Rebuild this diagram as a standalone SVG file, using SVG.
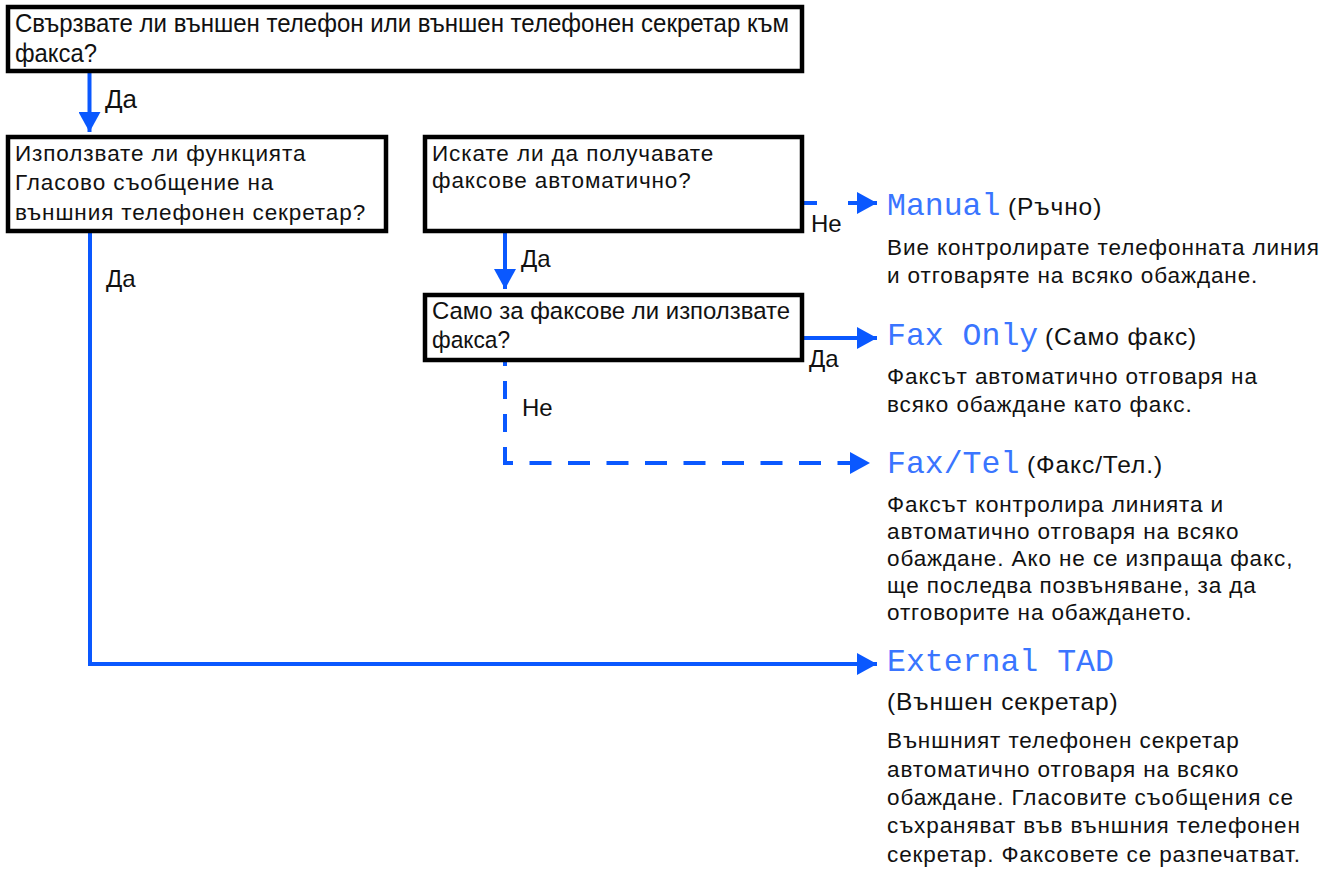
<svg xmlns="http://www.w3.org/2000/svg" width="1327" height="871" viewBox="0 0 1327 871">
<style>
.box{fill:#fff;stroke:#000;stroke-width:4.5}
.q{font-family:"Liberation Sans",Arial,sans-serif;font-size:26px;fill:#111}
.q4{font-family:"Liberation Sans",Arial,sans-serif;font-size:24.5px;fill:#111}
.t{font-family:"Liberation Sans",Arial,sans-serif;font-size:22.5px;letter-spacing:0.9px;fill:#111}
.h{font-family:"Liberation Sans",Arial,sans-serif;font-size:24.5px;letter-spacing:0.9px;fill:#111}
.lbl{font-family:"Liberation Sans",Arial,sans-serif;font-size:24px;fill:#111}
.m{font-family:"Liberation Mono","DejaVu Sans Mono",monospace;font-size:31.5px;fill:#3a75ff}
.ln{fill:none;stroke:#0a58ff;stroke-width:4;marker-end:url(#arr)}
.dash{fill:none;stroke:#0a58ff;stroke-width:4}
</style>
<defs>
<marker id="arr" markerUnits="userSpaceOnUse" markerWidth="20" markerHeight="22" viewBox="0 0 20 22" refX="20" refY="11" orient="auto">
<path d="M0,0 L20,11 L0,22 Z" fill="#0a58ff"/>
</marker>
</defs>
<rect width="1327" height="871" fill="#fff"/>

<g id="connectors">
<path class="ln" d="M89.5 73 V132"/>
<path class="ln" d="M90 233 V664 H877"/>
<path class="ln" d="M505 233 V289"/>
<path class="ln" d="M804 203 H817 M848 203 H877"/>
<path class="ln" d="M804 338 H877"/>
<path class="dash" d="M505 465 V362" stroke-dasharray="18 15"/>
<path class="ln" d="M503 463 H870" stroke-dasharray="22 16.5" stroke-dashoffset="12"/>
<text class="q" x="105" y="108" textLength="32" lengthAdjust="spacingAndGlyphs">Да</text>
<text class="lbl" x="106" y="287">Да</text>
<text class="lbl" x="521" y="267">Да</text>
<text class="lbl" x="811" y="232">Не</text>
<text class="lbl" x="809" y="367">Да</text>
<text class="lbl" x="522" y="416">Не</text>
</g>

<g id="q1">
<rect class="box" x="8" y="7" width="794" height="64"/>
<text class="q" x="15" y="32" textLength="774" lengthAdjust="spacingAndGlyphs">Свързвате ли външен телефон или външен телефонен секретар към</text>
<text class="q" x="15" y="62" textLength="82" lengthAdjust="spacingAndGlyphs">факса?</text>
</g>

<g id="q2">
<rect class="box" x="8" y="137" width="378" height="94"/>
<text class="t" x="15" y="161">Използвате ли функцията</text>
<text class="t" x="15" y="190">Гласово съобщение на</text>
<text class="t" x="15" y="220">външния телефонен секретар?</text>
</g>

<g id="q3">
<rect class="box" x="425" y="137" width="377" height="94"/>
<text class="t" x="432" y="161">Искате ли да получавате</text>
<text class="t" x="432" y="188">факсове автоматично?</text>
</g>

<g id="q4">
<rect class="box" x="425" y="295" width="377" height="65"/>
<text class="q4" x="432" y="319" textLength="358" lengthAdjust="spacingAndGlyphs">Само за факсове ли използвате</text>
<text class="q4" x="432" y="348" textLength="78" lengthAdjust="spacingAndGlyphs">факса?</text>
</g>

<g id="manual">
<text class="m" x="887" y="215">Manual</text>
<text class="h" x="1008" y="215">(Ръчно)</text>
<text class="t" x="887" y="255">Вие контролирате телефонната линия</text>
<text class="t" x="887" y="283">и отговаряте на всяко обаждане.</text>
</g>

<g id="faxonly">
<text class="m" x="887" y="345">Fax Only</text>
<text class="h" x="1045" y="345">(Само факс)</text>
<text class="t" x="887" y="384">Факсът автоматично отговаря на</text>
<text class="t" x="887" y="412">всяко обаждане като факс.</text>
</g>

<g id="faxtel">
<text class="m" x="887" y="473">Fax/Tel</text>
<text class="h" x="1027" y="473">(Факс/Тел.)</text>
<text class="t" x="887" y="512">Факсът контролира линията и</text>
<text class="t" x="887" y="539">автоматично отговаря на всяко</text>
<text class="t" x="887" y="566">обаждане. Ако не се изпраща факс,</text>
<text class="t" x="887" y="593">ще последва позвъняване, за да</text>
<text class="t" x="887" y="620">отговорите на обаждането.</text>
</g>

<g id="externaltad">
<text class="m" x="887" y="671">External TAD</text>
<text class="h" x="887" y="710">(Външен секретар)</text>
<text class="t" x="887" y="748">Външният телефонен секретар</text>
<text class="t" x="887" y="777">автоматично отговаря на всяко</text>
<text class="t" x="887" y="805">обаждане. Гласовите съобщения се</text>
<text class="t" x="887" y="833">съхраняват във външния телефонен</text>
<text class="t" x="887" y="862">секретар. Факсовете се разпечатват.</text>
</g>
</svg>
